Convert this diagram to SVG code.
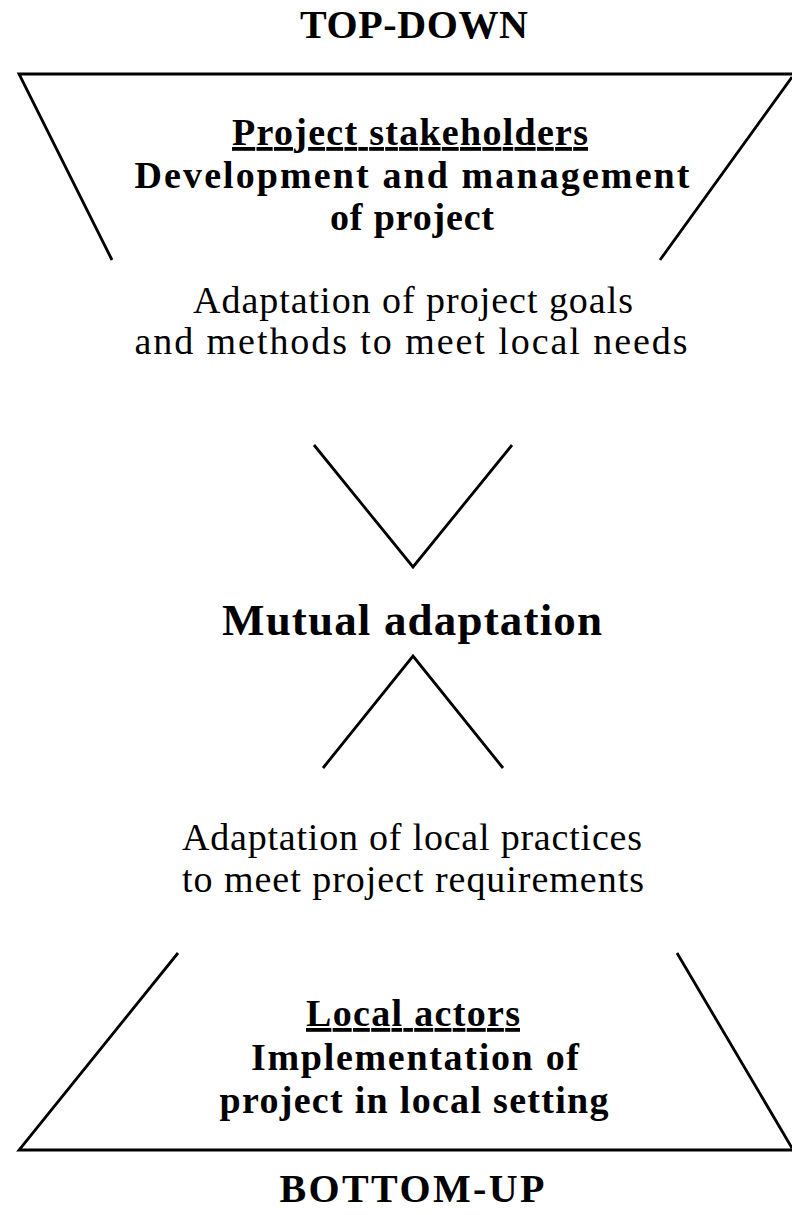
<svg xmlns="http://www.w3.org/2000/svg" width="792" height="1215" viewBox="0 0 792 1215">
<style>
.ln{fill:none;stroke:#000;stroke-width:2.8;stroke-linejoin:miter}
.t{font-family:"Liberation Serif","Times New Roman",serif;fill:#000;text-anchor:middle}
.b{font-weight:bold;font-size:38px}
.r{font-size:38px}
.h{font-weight:bold;font-size:40px}
.m{font-weight:bold;font-size:45px}
.u{text-decoration:underline}
</style>
<rect width="792" height="1215" fill="#fff"/>
<g id="label-top"><text class="t h" x="414" y="38" textLength="228">TOP-DOWN</text></g>
<g id="top-trapezoid">
<path class="ln" d="M112,260 L19,74 L795,74 M792,77 L660,260"/>
<text class="t b u" x="410" y="145" textLength="356">Project stakeholders</text>
<text class="t b" x="412" y="188" textLength="555">Development and management</text>
<text class="t b" x="412" y="230" textLength="164">of project</text>
</g>
<g id="top-adaptation">
<text class="t r" x="413" y="313" textLength="440">Adaptation of project goals</text>
<text class="t r" x="411" y="354" textLength="553">and methods to meet local needs</text>
</g>
<g id="connectors">
<path class="ln" d="M314,445 L413,567 L512,445"/>
<path class="ln" d="M323,768 L413,656 L503,768"/>
</g>
<g id="mutual"><text class="t m" x="412" y="635" textLength="380">Mutual adaptation</text></g>
<g id="bottom-adaptation">
<text class="t r" x="412" y="850" textLength="460">Adaptation of local practices</text>
<text class="t r" x="413" y="892" textLength="462">to meet project requirements</text>
</g>
<g id="bottom-trapezoid">
<path class="ln" d="M178,953 L19,1150 L795,1150 M677,953 L792,1148"/>
<text class="t b u" x="413" y="1026" textLength="214">Local actors</text>
<text class="t b" x="415" y="1070" textLength="328">Implementation of</text>
<text class="t b" x="414" y="1113" textLength="389">project in local setting</text>
</g>
<g id="label-bottom"><text class="t h" x="412" y="1202" textLength="265">BOTTOM-UP</text></g>
</svg>
